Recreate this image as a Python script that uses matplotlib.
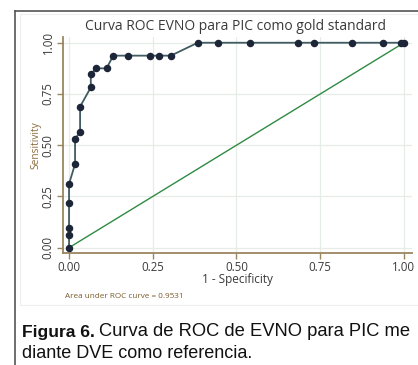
import numpy as np
import matplotlib.pyplot as plt
from matplotlib.patches import Rectangle
from matplotlib.lines import Line2D

# Curva ROC (1 - especificidad, sensibilidad)
fpr = [0.0, 0.0, 0.0, 0.0, 0.0, 0.018, 0.018, 0.033, 0.033, 0.065, 0.065,
       0.081, 0.112, 0.132, 0.177, 0.242, 0.27, 0.304, 0.384, 0.446, 0.54,
       0.684, 0.73, 0.844, 0.938, 0.99, 1.0]
sens = [0.0, 0.062, 0.095, 0.22, 0.311, 0.408, 0.532, 0.563, 0.688, 0.782,
        0.846, 0.875, 0.875, 0.937, 0.937, 0.937, 0.937, 0.937, 1.0, 1.0, 1.0,
        1.0, 1.0, 1.0, 1.0, 1.0, 1.0]
ticks = [0.0, 0.25, 0.5, 0.75, 1.0]
tick_labels = ["0.00", "0.25", "0.50", "0.75", "1.00"]
auc_text = "Area under ROC curve = 0.9531"

W, H = 418, 365
fig = plt.figure(figsize=(W / 100, H / 100), dpi=100)
fig.patch.set_facecolor("white")

axis_col = "#9a8660"
txt_col = "#3a3a3a"

# marcos exteriores
fig.add_artist(Line2D([14.5 / W, 14.5 / W], [0, 1 - 11 / H], color="#555555", lw=1.2))
fig.add_artist(Line2D([14.5 / W, 1], [1 - 11 / H, 1 - 11 / H], color="#555555", lw=1.2))
fig.add_artist(Rectangle((20 / W, 1 - 305 / H), (W - 20) / W, (305 - 14) / H,
                         fill=False, ec="#eeeeee", lw=0.8))

ax = fig.add_axes([63 / W, 1 - 253 / H, (412 - 63) / W, (253 - 37) / H])
ax.set_xlim(-0.018, 1.024)
ax.set_ylim(-0.026, 1.028)

for t in ticks:
    ax.axvline(t, color="#e6ede6", lw=0.9, zorder=0)
    ax.axhline(t, color="#e6ede6", lw=0.9, zorder=0)

ax.plot([0, 1], [0, 1], color="#2f8a43", lw=1.0, zorder=2)
ax.plot(fpr, sens, color="#405c62", lw=1.3, marker="o", ms=4.4,
        mfc="#1c2638", mec="#1c2638", zorder=3)

for s in ["top", "right"]:
    ax.spines[s].set_visible(False)
for s in ["left", "bottom"]:
    ax.spines[s].set_color(axis_col)
    ax.spines[s].set_linewidth(1.3)

ax.set_xticks(ticks)
ax.set_xticklabels(tick_labels)
ax.set_yticks(ticks)
ax.set_yticklabels(tick_labels, rotation=90, va="center")
ax.tick_params(colors=axis_col, labelcolor=txt_col, length=4, width=1, labelsize=8.3,
               pad=2)
for lab in ax.get_xticklabels() + ax.get_yticklabels():
    lab.set_family("Open Sans")

ax.set_xlabel("1 - Specificity", fontsize=8.5, color=txt_col, family="Open Sans", labelpad=-1)
ax.set_ylabel("Sensitivity", fontsize=7.3, color="#8b6a3c", family="Open Sans", labelpad=0)

fig.text(236 / W, 1 - 27 / H, "Curva ROC EVNO para PIC como gold standard",
         ha="center", va="center", fontsize=10, color=txt_col, family="Open Sans")
fig.text(65 / W, 1 - 296 / H, auc_text, ha="left", va="center", fontsize=5.9,
         color="#7a5a2a", family="Open Sans")

t1 = fig.text(22 / W, 1 - 332 / H, "Figura 6.", ha="left", va="center", fontsize=12.6,
              weight="bold", family="Liberation Sans", color="#111111")
fig.canvas.draw()
bb = t1.get_window_extent()
fig.text(bb.x1 / W + 4 / W, 1 - 332 / H, "Curva de ROC de EVNO para PIC me",
         ha="left", va="center", fontsize=13.2, family="Liberation Sans", color="#111111")
fig.text(22 / W, 1 - 353 / H, "diante DVE como referencia.", ha="left", va="center",
         fontsize=13, family="Liberation Sans", color="#111111")

fig.savefig("out.png", dpi=100)
